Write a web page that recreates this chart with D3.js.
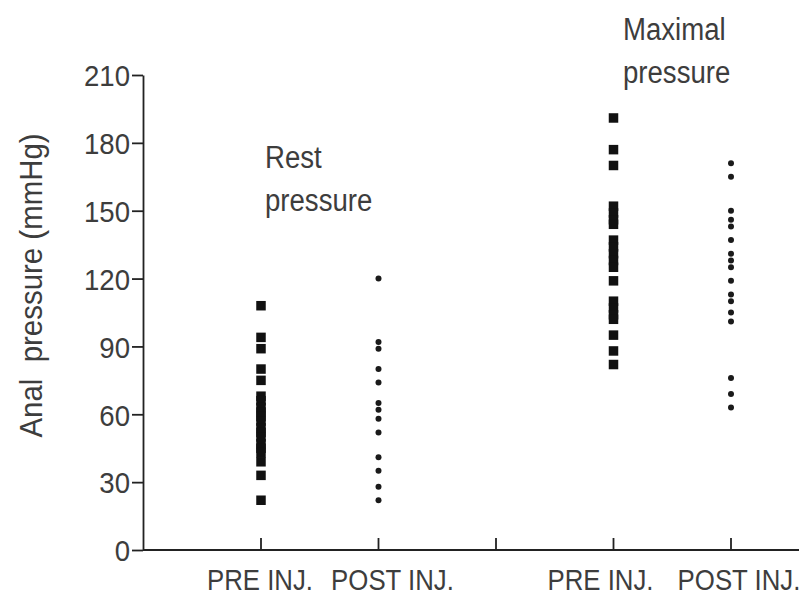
<!DOCTYPE html>
<html>
<head>
<meta charset="utf-8">
<script src="https://cdn.jsdelivr.net/npm/d3@7"></script>
<style>
  html, body { margin: 0; padding: 0; background: #fff; }
  svg { display: block; }
  .chart__text { font-family: "Liberation Sans", Arial, sans-serif; fill: #3d3d3d; }
  .chart__axis path, .chart__axis line { stroke: #222; stroke-width: 1.8; }
</style>
</head>
<body>
<svg id="chart"></svg>
<script>
// Groups along the x-axis (a blank slot separates rest from maximal pressure)
const groups = ["restPre", "restPost", "gap", "maxPre", "maxPost"];
const tickLabels = ["PRE INJ.", "POST INJ.", "", "PRE INJ.", "POST INJ."];
const yTicks = [0, 30, 60, 90, 120, 150, 180, 210];

// Anal pressure readings (mmHg)
const restPre = [108, 94, 89, 80, 75, 68, 66, 63, 61, 59, 57, 54, 52, 50, 47, 45, 43, 39, 33, 22];
const restPost = [120, 92, 89, 80, 74, 65, 62, 58, 52, 41, 35, 28, 22];
const maxPre = [191, 177, 170, 152, 149, 146, 144, 137, 134, 131, 128, 125, 119, 110, 107, 104, 102, 95, 88, 82];
const maxPost = [171, 165, 150, 146, 143, 137, 131, 128, 125, 119, 113, 110, 105, 101, 76, 69, 63];

const W = 799, H = 596;

const svg = d3.select("#chart")
  .attr("width", W)
  .attr("height", H);

const margin = { top: 75, right: 0, bottom: 46, left: 143 };

const x = d3.scalePoint()
  .domain(groups)
  .range([261, 731]);

const y = d3.scaleLinear()
  .domain([0, 210])
  .range([H - margin.bottom, margin.top]);

// the original lettering is a tall, narrow face: squeeze Liberation Sans horizontally
const squeeze = (sel, sx) => sel.each(function () {
  const t = d3.select(this);
  const tx = +t.attr("x") || 0;
  const ty = +t.attr("y") || 0;
  t.attr("x", null).attr("y", null)
    .attr("transform", `translate(${tx},${ty}) scale(${sx},1)`);
});

// y axis
const yAxis = svg.append("g")
  .attr("class", "chart__axis")
  .attr("transform", `translate(${margin.left},0)`)
  .call(d3.axisLeft(y).tickValues(yTicks).tickSize(11).tickPadding(2).tickSizeOuter(0));

yAxis.selectAll("text")
  .attr("class", "chart__text")
  .style("font-size", "30px")
  .attr("dy", "0.36em")
  .call(squeeze, 0.92);

// x axis: line to the right edge, short ticks pointing up
const xAxis = svg.append("g")
  .attr("class", "chart__axis")
  .attr("transform", `translate(0,${y(0)})`);

xAxis.append("line")
  .attr("x1", margin.left)
  .attr("x2", W)
  .attr("y1", 0)
  .attr("y2", 0);

xAxis.selectAll(".tick")
  .data(groups)
  .join("line")
  .attr("class", "tick")
  .attr("x1", d => x(d))
  .attr("x2", d => x(d))
  .attr("y1", 0)
  .attr("y2", -12);

// labels sit a little off their ticks in the original
const labelShift = [-1, 14, 0, -13, 8];

xAxis.selectAll(".label")
  .data(groups)
  .join("text")
  .attr("class", "chart__text label")
  .attr("x", (d, i) => x(d) + labelShift[i])
  .attr("y", 40)
  .attr("text-anchor", "middle")
  .style("font-size", "30px")
  .text((d, i) => tickLabels[i])
  .call(squeeze, 0.86);

// y axis title
svg.append("text")
  .attr("class", "chart__text")
  .attr("transform", `translate(42,${(y(0) + y(210)) / 2 - 27}) rotate(-90) scale(0.95,1)`)
  .attr("text-anchor", "middle")
  .style("font-size", "31px")
  .attr("xml:space", "preserve")
  .text("Anal  pressure (mmHg)");

// pre-injection readings: big squares; post-injection: small dots
const pre = 9.5;
[["restPre", restPre], ["maxPre", maxPre]].forEach(([g, vals]) => {
  svg.append("g").selectAll("rect")
    .data(vals)
    .join("rect")
    .attr("x", x(g) - pre / 2)
    .attr("y", d => y(d) - pre / 2)
    .attr("width", pre)
    .attr("height", pre)
    .attr("fill", "#111");
});

[["restPost", restPost], ["maxPost", maxPost]].forEach(([g, vals]) => {
  svg.append("g").selectAll("circle")
    .data(vals)
    .join("circle")
    .attr("cx", x(g))
    .attr("cy", d => y(d))
    .attr("r", 3)
    .attr("fill", "#1a1a1a");
});

// group annotations
const notes = [
  { lines: ["Rest", "pressure"], x: 265, y: 168 },
  { lines: ["Maximal", "pressure"], x: 623, y: 40 }
];

notes.forEach(n => {
  n.lines.forEach((line, i) => {
    svg.append("text")
      .attr("class", "chart__text")
      .attr("x", n.x)
      .attr("y", n.y + i * 43)
      .style("font-size", "31px")
      .text(line)
      .call(squeeze, 0.89);
  });
});
</script>
</body>
</html>
